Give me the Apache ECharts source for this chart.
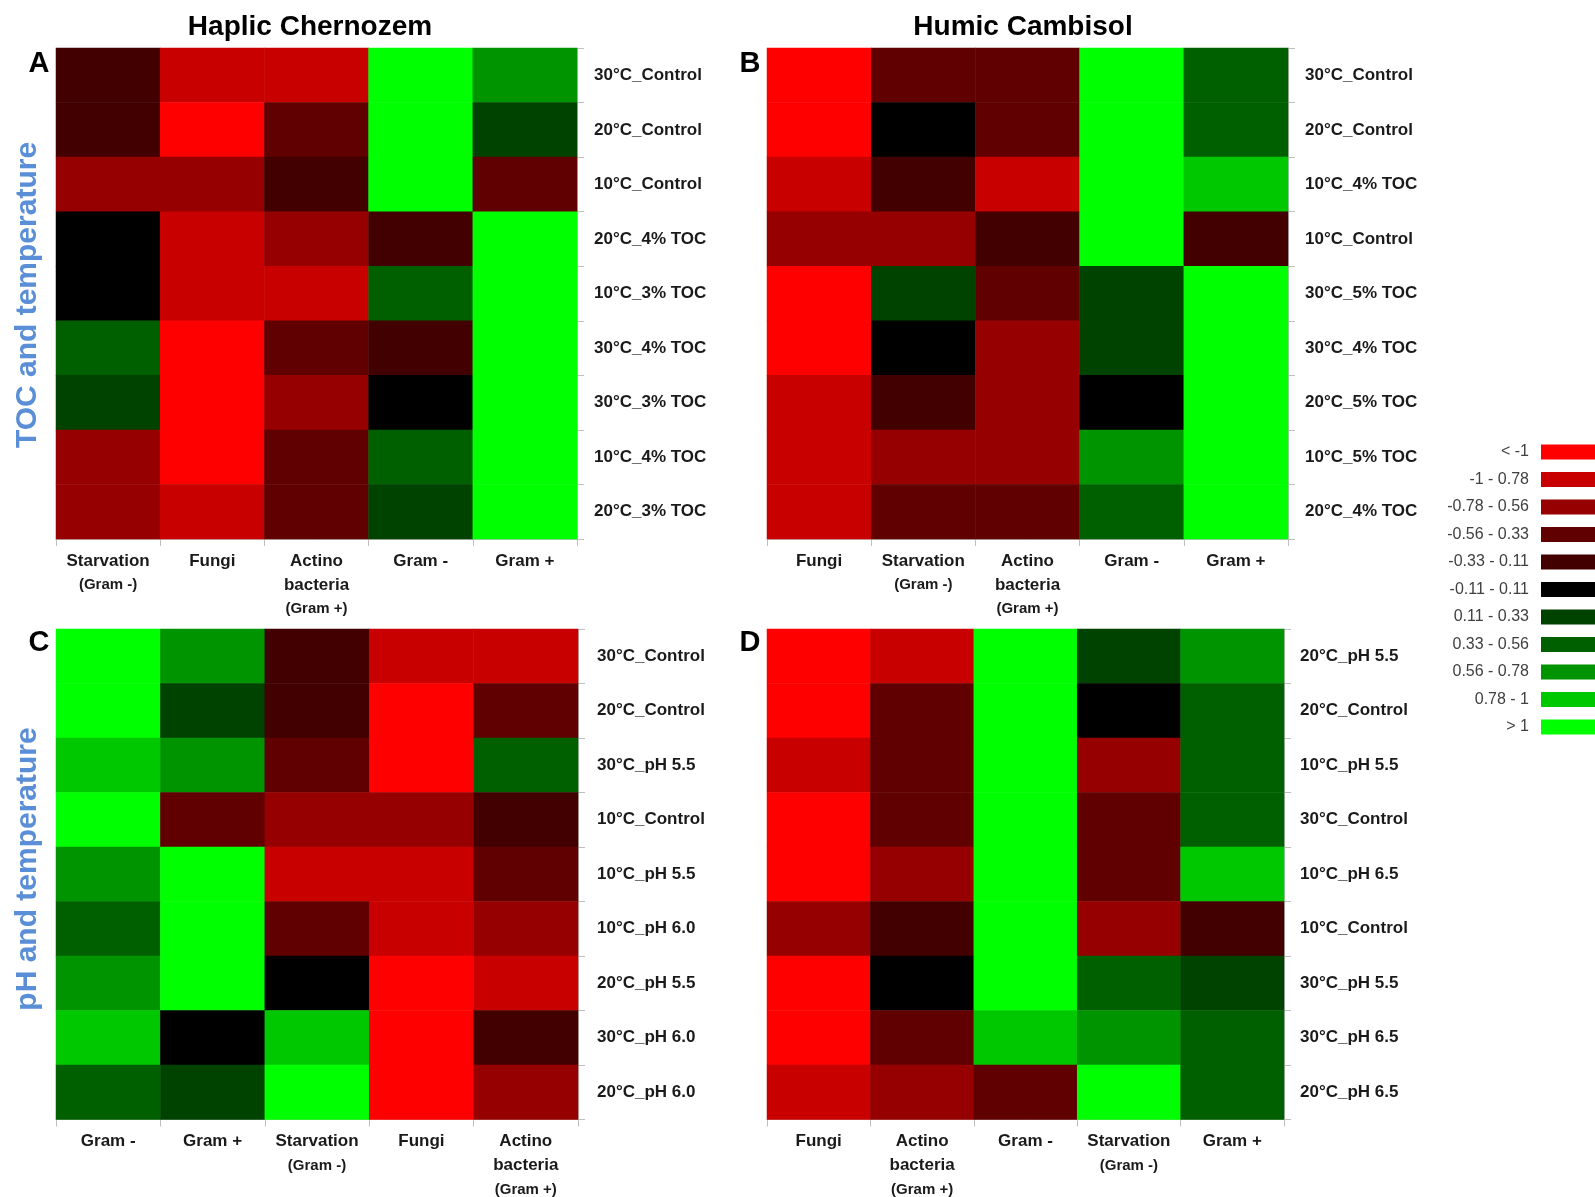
<!DOCTYPE html>
<html>
<head>
<meta charset="utf-8">
<script src="https://cdn.jsdelivr.net/npm/echarts@6/dist/echarts.min.js"></script>
<style>
  html, body { margin: 0; padding: 0; background: #fff; }
  #chart { width: 1595px; height: 1197px; }
</style>
</head>
<body>
<div id="chart"></div>
<script>
// categories (column order differs between panels)
const colsA = ['Starvation\n(Gram -)', 'Fungi', 'Actino\nbacteria\n(Gram +)', 'Gram -', 'Gram +']
const colsB = ['Fungi', 'Starvation\n(Gram -)', 'Actino\nbacteria\n(Gram +)', 'Gram -', 'Gram +']
const colsC = ['Gram -', 'Gram +', 'Starvation\n(Gram -)', 'Fungi', 'Actino\nbacteria\n(Gram +)']
const colsD = ['Fungi', 'Actino\nbacteria\n(Gram +)', 'Gram -', 'Starvation\n(Gram -)', 'Gram +']

const rowsA = ['30°C_Control', '20°C_Control', '10°C_Control', '20°C_4% TOC', '10°C_3% TOC', '30°C_4% TOC', '30°C_3% TOC', '10°C_4% TOC', '20°C_3% TOC']
const rowsB = ['30°C_Control', '20°C_Control', '10°C_4% TOC', '10°C_Control', '30°C_5% TOC', '30°C_4% TOC', '20°C_5% TOC', '10°C_5% TOC', '20°C_4% TOC']
const rowsC = ['30°C_Control', '20°C_Control', '30°C_pH 5.5', '10°C_Control', '10°C_pH 5.5', '10°C_pH 6.0', '20°C_pH 5.5', '30°C_pH 6.0', '20°C_pH 6.0']
const rowsD = ['20°C_pH 5.5', '20°C_Control', '10°C_pH 5.5', '30°C_Control', '10°C_pH 6.5', '10°C_Control', '30°C_pH 5.5', '30°C_pH 6.5', '20°C_pH 6.5']

// values, one row per treatment
const valsA = [
  [-0.22, -0.89, -0.89, 1.2, 0.67],
  [-0.22, -1.2, -0.45, 1.2, 0.22],
  [-0.67, -0.67, -0.22, 1.2, -0.45],
  [0, -0.89, -0.67, -0.22, 1.2],
  [0, -0.89, -0.89, 0.45, 1.2],
  [0.45, -1.2, -0.45, -0.22, 1.2],
  [0.22, -1.2, -0.67, 0, 1.2],
  [-0.67, -1.2, -0.45, 0.45, 1.2],
  [-0.67, -0.89, -0.45, 0.22, 1.2]
]
const valsB = [
  [-1.2, -0.45, -0.45, 1.2, 0.45],
  [-1.2, 0, -0.45, 1.2, 0.45],
  [-0.89, -0.22, -0.89, 1.2, 0.89],
  [-0.67, -0.67, -0.22, 1.2, -0.22],
  [-1.2, 0.22, -0.45, 0.22, 1.2],
  [-1.2, 0, -0.67, 0.22, 1.2],
  [-0.89, -0.22, -0.67, 0, 1.2],
  [-0.89, -0.67, -0.67, 0.67, 1.2],
  [-0.89, -0.45, -0.45, 0.45, 1.2]
]
const valsC = [
  [1.2, 0.67, -0.22, -0.89, -0.89],
  [1.2, 0.22, -0.22, -1.2, -0.45],
  [0.89, 0.67, -0.45, -1.2, 0.45],
  [1.2, -0.45, -0.67, -0.67, -0.22],
  [0.67, 1.2, -0.89, -0.89, -0.45],
  [0.45, 1.2, -0.45, -0.89, -0.67],
  [0.67, 1.2, 0, -1.2, -0.89],
  [0.89, 0, 0.89, -1.2, -0.22],
  [0.45, 0.22, 1.2, -1.2, -0.67]
]
const valsD = [
  [-1.2, -0.89, 1.2, 0.22, 0.67],
  [-1.2, -0.45, 1.2, 0, 0.45],
  [-0.89, -0.45, 1.2, -0.67, 0.45],
  [-1.2, -0.45, 1.2, -0.45, 0.45],
  [-1.2, -0.67, 1.2, -0.45, 0.89],
  [-0.67, -0.22, 1.2, -0.67, -0.22],
  [-1.2, 0, 1.2, 0.45, 0.22],
  [-1.2, -0.45, 0.89, 0.67, 0.45],
  [-0.89, -0.67, -0.45, 1.2, 0.45]
]

// legend classes
const classBreaks = [-1, -0.78, -0.56, -0.33, -0.11, 0.11, 0.33, 0.56, 0.78, 1]
const classLabels = ['< -1', '-1 - 0.78', '-0.78 - 0.56', '-0.56 - 0.33', '-0.33 - 0.11', '-0.11 - 0.11', '0.11 - 0.33', '0.33 - 0.56', '0.56 - 0.78', '0.78 - 1', '> 1']
const classColors = ['#FF0000', '#C80000', '#960000', '#600000', '#420000', '#000000', '#004200', '#006000', '#009400', '#00C800', '#00FF00']

const FONT = '"Liberation Sans", Arial, sans-serif'
const AXIS_GRAY = '#BFBFBF'

const chart = echarts.init(document.getElementById('chart'))

const panels = [
  { cols: colsA, rows: rowsA, vals: valsA, grid: { left: 56, top: 48, width: 521, height: 491 }, margin: 17 },
  { cols: colsB, rows: rowsB, vals: valsB, grid: { left: 767, top: 48, width: 521, height: 491 }, margin: 17 },
  { cols: colsC, rows: rowsC, vals: valsC, grid: { left: 56, top: 629, width: 522, height: 491 }, margin: 19 },
  { cols: colsD, rows: rowsD, vals: valsD, grid: { left: 767, top: 629, width: 517, height: 491 }, margin: 16 }
]

function toCells(vals) {
  const out = []
  vals.forEach((row, i) => {
    row.forEach((v, j) => out.push([j, i, v]))
  })
  return out
}

function xLabel(val) {
  return val.split('\n').map(l => l.charAt(0) === '(' ? '{s|' + l + '}' : '{m|' + l + '}').join('\n')
}

const pieces = classLabels.map((label, i) => {
  const p = { label: label, color: classColors[i] }
  if (i === 0) p.lt = classBreaks[0]
  else if (i === classLabels.length - 1) p.gt = classBreaks[classBreaks.length - 1]
  else { p.gte = classBreaks[i - 1]; p.lt = classBreaks[i] }
  return p
})

const textEl = (text, x, y, size, color, rot) => ({
  type: 'text',
  x: x,
  y: y,
  rotation: rot || 0,
  style: {
    text: text,
    font: 'bold ' + size + 'px ' + FONT,
    fill: color,
    align: 'center',
    verticalAlign: 'middle'
  }
})

chart.setOption({
  backgroundColor: '#fff',
  animation: false,
  grid: panels.map(p => p.grid),
  xAxis: panels.map((p, k) => ({
    type: 'category',
    gridIndex: k,
    data: p.cols,
    splitArea: { show: false },
    axisLine: { show: true, lineStyle: { color: AXIS_GRAY } },
    axisTick: { show: true, length: 7, lineStyle: { color: AXIS_GRAY } },
    axisLabel: {
      interval: 0,
      margin: 10,
      color: '#1a1a1a',
      formatter: xLabel,
      rich: {
        m: { fontSize: 17, fontWeight: 'bold', fontFamily: FONT, lineHeight: 24, color: '#1a1a1a' },
        s: { fontSize: 15, fontWeight: 'bold', fontFamily: FONT, lineHeight: 24, color: '#1a1a1a' }
      }
    }
  })),
  yAxis: panels.map((p, k) => ({
    type: 'category',
    gridIndex: k,
    position: 'right',
    inverse: true,
    data: p.rows,
    splitArea: { show: false },
    axisLine: { show: true, lineStyle: { color: AXIS_GRAY } },
    axisTick: { show: true, length: 7, lineStyle: { color: AXIS_GRAY } },
    axisLabel: {
      interval: 0,
      margin: p.margin,
      fontSize: 17,
      fontWeight: 'bold',
      fontFamily: FONT,
      color: '#1a1a1a'
    }
  })),
  visualMap: {
    type: 'piecewise',
    seriesIndex: [0, 1, 2, 3],
    pieces: pieces,
    orient: 'vertical',
    inverse: true,
    align: 'right',
    right: 0,
    top: 444,
    padding: 0,
    itemWidth: 54,
    itemHeight: 15,
    itemGap: 11.5,
    itemSymbol: 'rect',
    textGap: 12,
    selectedMode: false,
    textStyle: { fontSize: 16, fontFamily: FONT, color: '#404040' }
  },
  graphic: [
    textEl('Haplic Chernozem', 310, 27, 28, '#000'),
    textEl('Humic Cambisol', 1023, 27, 28, '#000'),
    textEl('A', 39, 64, 29, '#000'),
    textEl('B', 750, 64, 29, '#000'),
    textEl('C', 39, 643, 29, '#000'),
    textEl('D', 750, 643, 29, '#000'),
    textEl('TOC and temperature', 28, 295, 30, '#5A8ED6', Math.PI / 2),
    textEl('pH and temperature', 28, 869, 30, '#5A8ED6', Math.PI / 2)
  ],
  series: panels.map((p, k) => ({
    type: 'heatmap',
    xAxisIndex: k,
    yAxisIndex: k,
    data: toCells(p.vals),
    itemStyle: { borderWidth: 0 },
    emphasis: { disabled: true },
    label: { show: false }
  }))
})
</script>
</body>
</html>
